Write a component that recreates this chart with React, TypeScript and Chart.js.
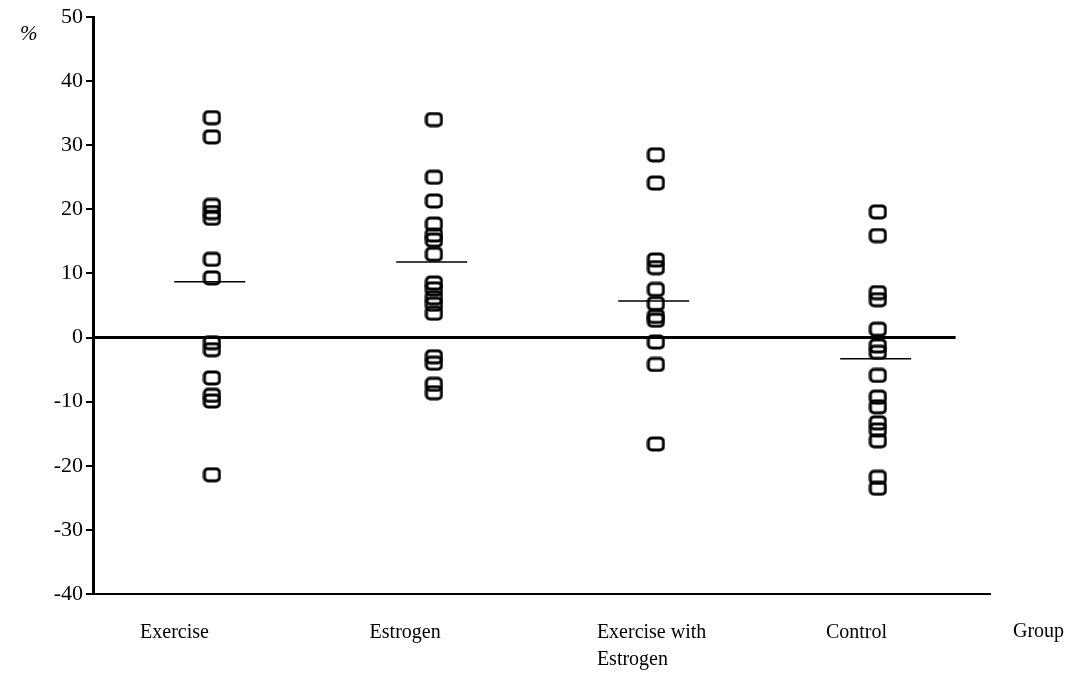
import React, { useEffect, useRef } from "react";
import { Chart, registerables } from "chart.js";

Chart.register(...registerables);

// ---- data ----
const groupLabels: (string | string[])[] = ["Exercise", "Estrogen", ["Exercise with", "Estrogen"], "Control"];
const xAxisTitle = "Group";
const yAxisTitle = "%";
const yTickValues = [-40, -30, -20, -10, 0, 10, 20, 30, 40, 50];

const exercise = [34.3, 31.3, 20.6, 19.5, 18.6, 12.2, 9.3, -0.8, -1.9, -6.3, -9.0, -9.9, -21.4];
const estrogen = [34.0, 25.0, 21.3, 17.7, 16.0, 15.2, 13.0, 8.5, 7.6, 6.2, 5.2, 3.8, -3.0, -4.0, -7.3, -8.6];
const exerciseWithEstrogen = [28.5, 24.1, 12.1, 10.9, 7.5, 5.3, 3.3, 2.7, -0.7, -4.2, -16.6];
const control = [19.6, 15.9, 7.0, 5.9, 1.3, -1.3, -2.3, -5.9, -9.3, -10.8, -13.3, -14.4, -16.1, -21.8, -23.5];
const groupMeans = [8.7, 11.8, 5.7, -3.3];

const groups = [exercise, estrogen, exerciseWithEstrogen, control];

// ---- layout constants ----
const X_MIN = 0.464;
const X_MAX = 4.505;
const ZERO_LINE_END = 4.35;
const LABEL_ANCHORS = [0.676, 1.71, 2.734, 3.766];
const MEAN_LEFT = 0.17;
const MEAN_RIGHT = 0.15;
const FONT = '"Liberation Serif", "Times New Roman", serif';

function makeMarker(): HTMLCanvasElement {
  const c = document.createElement("canvas");
  c.width = 19;
  c.height = 16;
  const ctx = c.getContext("2d")!;
  ctx.lineWidth = 3;
  ctx.strokeStyle = "#000";
  ctx.beginPath();
  (ctx as any).roundRect(2, 2, 15, 12, 3.5);
  ctx.stroke();
  return c;
}

export default function App() {
  const ref = useRef<HTMLCanvasElement | null>(null);

  useEffect(() => {
    if (!ref.current) return;
    const marker = makeMarker();

    const scatterSets = groups.map((vals, gi) => ({
      type: "scatter" as const,
      data: vals.map((v) => ({ x: gi + 1, y: v })),
      pointStyle: marker,
      pointRadius: 8,
      showLine: false,
      order: 1,
    }));

    const meanSets = groupMeans.map((m, gi) => ({
      type: "line" as const,
      data: [
        { x: gi + 1 - MEAN_LEFT, y: m },
        { x: gi + 1 + MEAN_RIGHT, y: m },
      ],
      borderColor: "#000",
      borderWidth: 1.5,
      pointRadius: 0,
      fill: false,
      order: 2,
    }));

    const zeroSet = {
      type: "line" as const,
      data: [
        { x: X_MIN, y: 0 },
        { x: ZERO_LINE_END, y: 0 },
      ],
      borderColor: "#000",
      borderWidth: 3,
      pointRadius: 0,
      fill: false,
      order: 3,
    };

    const textPlugin = {
      id: "extraText",
      afterDraw(chart: any) {
        const ctx = chart.ctx;
        ctx.save();
        ctx.fillStyle = "#000";
        ctx.font = `italic 21px ${FONT}`;
        ctx.textAlign = "left";
        ctx.textBaseline = "middle";
        ctx.fillText(yAxisTitle, 20, 34);
        ctx.font = `20px ${FONT}`;
        ctx.fillText(xAxisTitle, 1013, 632);
        ctx.restore();
      },
    };

    const chart = new Chart(ref.current, {
      type: "scatter",
      data: { datasets: [...scatterSets, ...meanSets, zeroSet] as any },
      options: {
        animation: false,
        responsive: true,
        maintainAspectRatio: false,
        layout: { padding: { top: 17, right: 97, left: 0, bottom: 0 } },
        plugins: { legend: { display: false }, tooltip: { enabled: false } },
        scales: {
          x: {
            type: "linear",
            min: X_MIN,
            max: X_MAX,
            afterBuildTicks: (s: any) => {
              s.ticks = LABEL_ANCHORS.map((v) => ({ value: v }));
            },
            afterFit: (s: any) => {
              s.height = 85;
            },
            grid: { display: false, drawTicks: false },
            border: { display: true, color: "#000", width: 2 },
            ticks: {
              align: "start",
              color: "#000",
              autoSkip: false,
              maxRotation: 0,
              padding: 25,
              font: { family: FONT, size: 20, lineHeight: 1.35 },
              callback: (_v: any, i: number) => groupLabels[i] as any,
            },
          },
          y: {
            type: "linear",
            min: -40,
            max: 50,
            afterBuildTicks: (s: any) => {
              s.ticks = yTickValues.map((v) => ({ value: v }));
            },
            afterFit: (s: any) => {
              s.width = 93;
            },
            grid: { drawOnChartArea: false, drawTicks: true, tickLength: 7, color: "#000", lineWidth: 2 },
            border: { display: true, color: "#000", width: 3 },
            ticks: {
              color: "#000",
              padding: 3,
              font: { family: FONT, size: 22 },
              callback: (v: any) => String(v),
            },
          },
        },
      } as any,
      plugins: [textPlugin],
    });

    return () => chart.destroy();
  }, []);

  return (
    <div style={{ position: "absolute", left: 0, top: 0, width: 1087, height: 679, background: "#fff" }}>
      <canvas ref={ref} />
    </div>
  );
}
